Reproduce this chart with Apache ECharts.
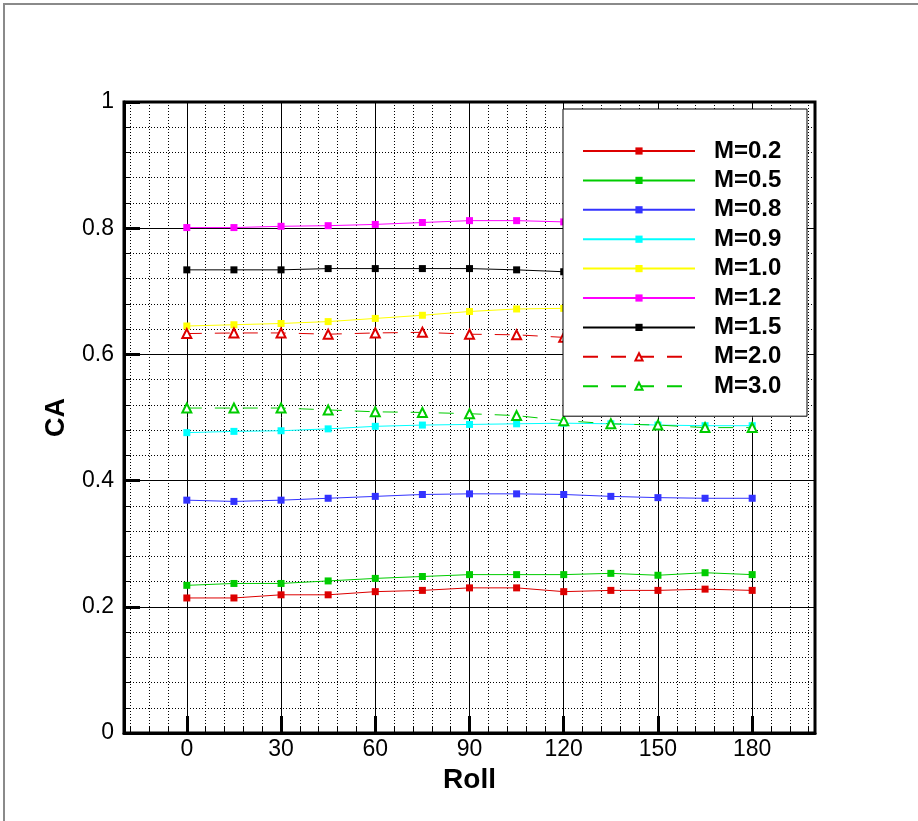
<!DOCTYPE html>
<html>
<head>
<meta charset="utf-8">
<script src="https://cdn.jsdelivr.net/npm/echarts@6/dist/echarts.min.js"></script>
<style>
html,body{margin:0;padding:0;background:#fff;}
#chart{width:918px;height:821px;}
</style>
</head>
<body>
<div id="chart"></div>
<script>
const roll = [0, 15, 30, 45, 60, 75, 90, 105, 120, 135, 150, 165, 180];
const xTicks = [0, 30, 60, 90, 120, 150, 180];
const xMinorTicks = [-18, -12, -6, 6, 12, 18, 24, 36, 42, 48, 54, 66, 72, 78, 84, 96, 102, 108, 114, 126, 132, 138, 144, 156, 162, 168, 174, 186, 192, 198];
const yTicks = [0, 0.2, 0.4, 0.6, 0.8, 1];

const seriesNames = ['M=0.2', 'M=0.5', 'M=0.8', 'M=0.9', 'M=1.0', 'M=1.2', 'M=1.5', 'M=2.0', 'M=3.0'];
const m02 = [0.214, 0.214, 0.219, 0.219, 0.224, 0.226, 0.230, 0.230, 0.224, 0.226, 0.226, 0.228, 0.226];
const m05 = [0.234, 0.237, 0.237, 0.241, 0.245, 0.248, 0.251, 0.251, 0.251, 0.253, 0.250, 0.254, 0.251];
const m08 = [0.369, 0.367, 0.369, 0.372, 0.375, 0.378, 0.379, 0.379, 0.378, 0.375, 0.373, 0.372, 0.372];
const m09 = [0.476, 0.478, 0.479, 0.482, 0.486, 0.488, 0.489, 0.490, 0.491, 0.490, 0.488, 0.487, 0.487];
const m10 = [0.645, 0.647, 0.649, 0.652, 0.657, 0.662, 0.668, 0.672, 0.673, 0.674, 0.675, 0.675, 0.675];
const m12 = [0.801, 0.801, 0.803, 0.804, 0.806, 0.809, 0.812, 0.812, 0.810, 0.809, 0.808, 0.808, 0.808];
const m15 = [0.734, 0.734, 0.734, 0.736, 0.736, 0.736, 0.736, 0.734, 0.731, 0.729, 0.728, 0.727, 0.727];
const m20 = [0.633, 0.634, 0.634, 0.632, 0.634, 0.635, 0.632, 0.631, 0.627, 0.627, 0.628, 0.628, 0.629];
const m30 = [0.515, 0.515, 0.515, 0.512, 0.509, 0.508, 0.506, 0.503, 0.495, 0.490, 0.488, 0.484, 0.484];

const seriesValues = [m02, m05, m08, m09, m10, m12, m15, m20, m30];
const seriesColors = ['#dd0000', '#00cc00', '#3333ff', '#00ffff', '#ffff00', '#ff00ff', '#000000', '#dd0000', '#00cc00'];
const seriesSymbols = ['rect', 'rect', 'rect', 'rect', 'rect', 'rect', 'rect', 'emptyTriangle', 'emptyTriangle'];
const seriesDashed = [false, false, false, false, false, false, false, true, true];

const FONT = "'Liberation Sans', Arial, Helvetica, sans-serif";

const series = seriesNames.map((name, i) => ({
  name: name,
  type: 'line',
  xAxisIndex: 0,
  yAxisIndex: 0,
  data: roll.map((r, j) => [r, seriesValues[i][j]]),
  symbol: seriesSymbols[i],
  symbolSize: seriesSymbols[i] === 'rect' ? 7 : 9,
  showSymbol: true,
  color: seriesColors[i],
  itemStyle: { color: seriesColors[i], borderWidth: seriesSymbols[i] === 'rect' ? 0 : 1.2 },
  lineStyle: { color: seriesColors[i], width: 1, type: seriesDashed[i] ? [15, 13] : 'solid' },
  z: 2
}));

const chart = echarts.init(document.getElementById('chart'), null, { renderer: 'canvas' });
chart.setOption({
  animation: false,
  backgroundColor: '#ffffff',
  textStyle: { fontFamily: FONT },
  graphic: [{
    type: 'polyline',
    shape: { points: [[4, 821], [4, 4], [918, 4]] },
    style: { stroke: '#8a8a8a', lineWidth: 2, fill: null },
    silent: true
  }],
  grid: {
    left: 124, right: 103, top: 102, bottom: 88,
    show: true, borderColor: '#000', borderWidth: 3, backgroundColor: 'transparent'
  },
  legend: {
    orient: 'vertical',
    left: 563, top: 109,
    data: seriesNames,
    backgroundColor: '#ffffff',
    borderColor: '#000',
    borderWidth: 1,
    padding: [30, 23, 18, 19],
    itemWidth: 112,
    itemHeight: 9,
    itemGap: 5.4,
    selectedMode: false,
    textStyle: {
      fontFamily: FONT, fontSize: 24, fontWeight: 'bold', color: '#000',
      lineHeight: 24, width: 70, padding: [0, 0, 0, 14]
    },
    z: 10
  },
  xAxis: [{
    type: 'value',
    min: -20, max: 200,
    position: 'bottom',
    name: 'Roll',
    nameLocation: 'middle',
    nameGap: 28,
    nameTextStyle: { fontFamily: FONT, fontSize: 28, fontWeight: 'bold', color: '#000' },
    axisLine: { show: true, onZero: false, lineStyle: { color: '#000', width: 3 } },
    axisTick: { show: true, inside: true, length: 17, lineStyle: { color: '#000', width: 3 }, customValues: xTicks },
    axisLabel: { customValues: xTicks, fontFamily: FONT, fontSize: 23, color: '#000', margin: 5 },
    splitLine: { show: true, lineStyle: { color: '#000', width: 1 } },
    z: 1
  }, {
    type: 'value',
    min: -20, max: 200,
    position: 'bottom',
    axisLine: { show: false },
    axisTick: { show: true, inside: true, length: 7, lineStyle: { color: '#000', width: 1 }, customValues: xMinorTicks },
    axisLabel: { show: false },
    splitLine: { show: true, lineStyle: { color: '#000', width: 1, type: [1, 2] } },
    z: 0
  }],
  yAxis: [{
    type: 'value',
    min: 0, max: 1, interval: 0.2,
    name: 'CA',
    nameLocation: 'middle',
    nameGap: 54,
    nameRotate: 90,
    nameTextStyle: { fontFamily: FONT, fontSize: 27, fontWeight: 'bold', color: '#000' },
    axisLine: { show: true, onZero: false, lineStyle: { color: '#000', width: 3 } },
    axisTick: { show: true, inside: true, length: 16, lineStyle: { color: '#000', width: 3 } },
    minorTick: { show: true, splitNumber: 5, length: 7, lineStyle: { color: '#000', width: 1 } },
    axisLabel: { fontFamily: FONT, fontSize: 23, color: '#000', margin: 10,
      formatter: v => String(yTicks.find(t => Math.abs(t - v) < 1e-9) ?? v) },
    splitLine: { show: true, lineStyle: { color: '#000', width: 1 } },
    minorSplitLine: { show: true, lineStyle: { color: '#000', width: 1, type: [1, 2] } },
    z: 1
  }],
  series: series
});
</script>
</body>
</html>
